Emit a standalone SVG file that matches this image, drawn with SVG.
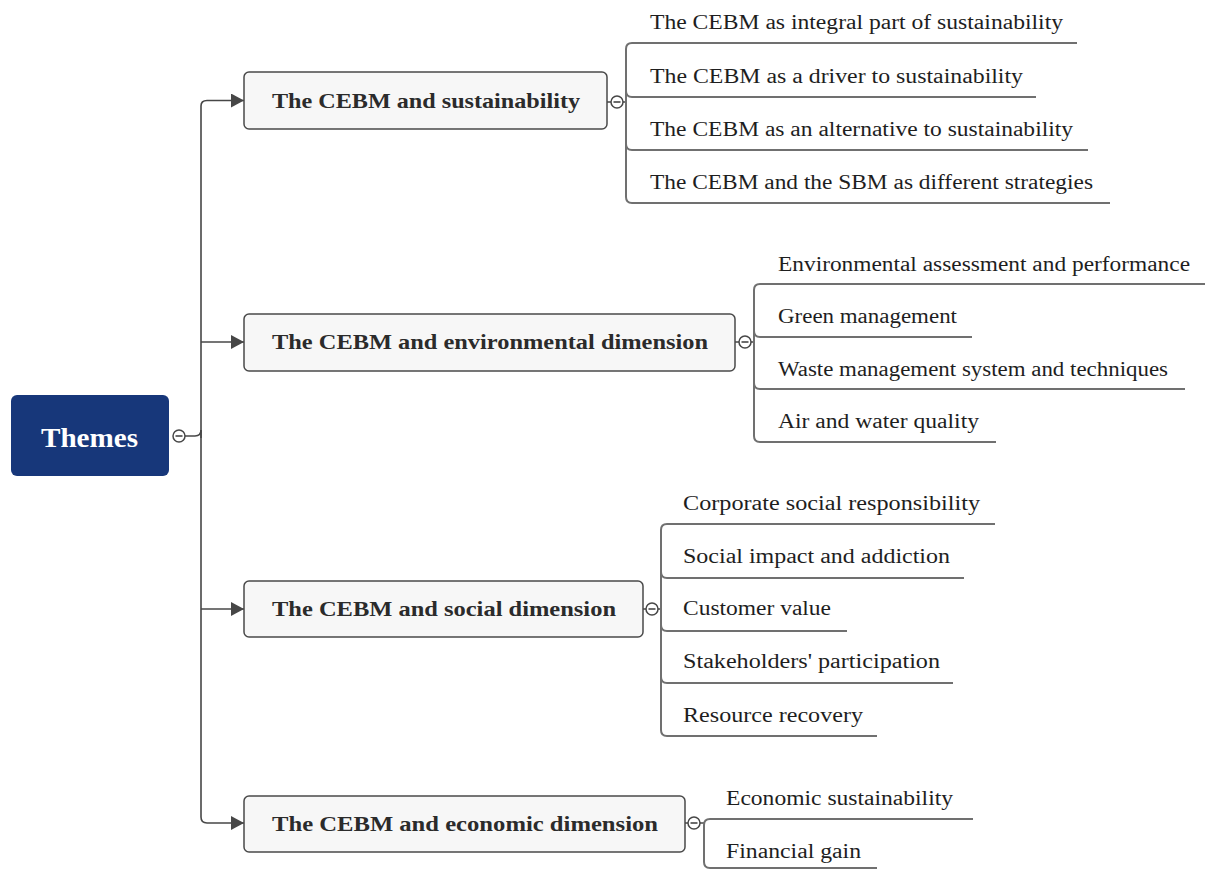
<svg xmlns="http://www.w3.org/2000/svg" width="1205" height="870" viewBox="0 0 1205 870">
<style>
.conn{fill:none;stroke:#474747;stroke-width:1.6}
.ul{fill:none;stroke:#707070;stroke-width:2}
.box{fill:#f7f7f7;stroke:#4a4a4a;stroke-width:1.5}
.bt{font-family:"Liberation Serif","Times New Roman",serif;font-weight:bold;font-size:22px;fill:#2b2b2b}
.lt{font-family:"Liberation Serif","Times New Roman",serif;font-size:20px;fill:#1e1e1e}
.col{fill:#fff;stroke:#474747;stroke-width:1.5}
.root{font-family:"Liberation Serif","Times New Roman",serif;font-weight:bold;font-size:27px;fill:#fff}
</style>
<defs>
<marker id="arr" markerWidth="13" markerHeight="14" refX="13" refY="7" orient="auto" markerUnits="userSpaceOnUse">
<path d="M0,0 L13,7 L0,14 Z" fill="#474747"/>
</marker>
</defs>
<rect width="1205" height="870" fill="#fff"/>

<g id="connectors">
<path class="conn" d="M185,436 L195,436 Q201,436 201,430"/>
<path class="conn" d="M201,438 L201,430"/>
<path class="conn" marker-end="url(#arr)" d="M201,436 L201,106 Q201,100.5 207,100.5 L244,100.5"/>
<path class="conn" marker-end="url(#arr)" d="M201,436 L201,817 Q201,823 207,823 L244,823"/>
<path class="conn" marker-end="url(#arr)" d="M201,342 L244,342"/>
<path class="conn" marker-end="url(#arr)" d="M201,609 L244,609"/>
<!-- b1 -->
<path class="conn" d="M607,102 L611,102 M623,102 L626,102"/>
<path class="ul" d="M1077,43 L632,43 Q626,43 626,49 L626,197 Q626,203 632,203 L1110,203"/>
<path class="ul" d="M626,91 Q626,97 632,97 L1036,97 M626,144 Q626,150 632,150 L1088,150"/>
<!-- b2 -->
<path class="conn" d="M735,342 L739,342 M751,342 L754,342"/>
<path class="ul" d="M1205,284 L760,284 Q754,284 754,290 L754,436 Q754,442 760,442 L996,442"/>
<path class="ul" d="M754,331 Q754,337 760,337 L972,337 M754,383 Q754,389 760,389 L1185,389"/>
<!-- b3 -->
<path class="conn" d="M643,609 L646,609 M658,609 L661,609"/>
<path class="ul" d="M995,524 L667,524 Q661,524 661,530 L661,730 Q661,736 667,736 L877,736"/>
<path class="ul" d="M661,572 Q661,578 667,578 L964,578 M661,625 Q661,631 667,631 L847,631 M661,677 Q661,683 667,683 L953,683"/>
<!-- b4 -->
<path class="conn" d="M685,823 L688,823 M700,823 L704,823"/>
<path class="ul" d="M973,819 L710,819 Q704,819 704,825 L704,862 Q704,868 710,868 L877,868"/>
</g>

<g id="root">
<rect x="11" y="395" width="158" height="81" rx="6" fill="#17377a"/>
<text class="root" x="41" y="447" textLength="97" lengthAdjust="spacingAndGlyphs">Themes</text>
<circle class="col" cx="179" cy="436" r="6"/>
<path d="M175.5,436 L182.5,436" stroke="#474747" stroke-width="1.6"/>
</g>

<g id="b1">
<rect class="box" x="244" y="72" width="363" height="57" rx="5"/>
<text class="bt" x="272" y="108" textLength="308" lengthAdjust="spacingAndGlyphs">The CEBM and sustainability</text>
<circle class="col" cx="617" cy="102" r="6"/>
<path d="M613.5,102 L620.5,102" stroke="#474747" stroke-width="1.6"/>
</g>
<g id="b1-leaves">
<text class="lt" x="650" y="29" textLength="413" lengthAdjust="spacingAndGlyphs">The CEBM as integral part of sustainability</text>
<text class="lt" x="650" y="83" textLength="373" lengthAdjust="spacingAndGlyphs">The CEBM as a driver to sustainability</text>
<text class="lt" x="650" y="136" textLength="423" lengthAdjust="spacingAndGlyphs">The CEBM as an alternative to sustainability</text>
<text class="lt" x="650" y="189" textLength="443" lengthAdjust="spacingAndGlyphs">The CEBM and the SBM as different strategies</text>
</g>

<g id="b2">
<rect class="box" x="244" y="314" width="491" height="57" rx="5"/>
<text class="bt" x="272" y="349" textLength="436" lengthAdjust="spacingAndGlyphs">The CEBM and environmental dimension</text>
<circle class="col" cx="745" cy="342" r="6"/>
<path d="M741.5,342 L748.5,342" stroke="#474747" stroke-width="1.6"/>
</g>
<g id="b2-leaves">
<text class="lt" x="778" y="271" textLength="412" lengthAdjust="spacingAndGlyphs">Environmental assessment and performance</text>
<text class="lt" x="778" y="323" textLength="179" lengthAdjust="spacingAndGlyphs">Green management</text>
<text class="lt" x="778" y="376" textLength="390" lengthAdjust="spacingAndGlyphs">Waste management system and techniques</text>
<text class="lt" x="778" y="428" textLength="201" lengthAdjust="spacingAndGlyphs">Air and water quality</text>
</g>

<g id="b3">
<rect class="box" x="244" y="581" width="399" height="56" rx="5"/>
<text class="bt" x="272" y="616" textLength="344" lengthAdjust="spacingAndGlyphs">The CEBM and social dimension</text>
<circle class="col" cx="652" cy="609" r="6"/>
<path d="M648.5,609 L655.5,609" stroke="#474747" stroke-width="1.6"/>
</g>
<g id="b3-leaves">
<text class="lt" x="683" y="510" textLength="297" lengthAdjust="spacingAndGlyphs">Corporate social responsibility</text>
<text class="lt" x="683" y="563" textLength="267" lengthAdjust="spacingAndGlyphs">Social impact and addiction</text>
<text class="lt" x="683" y="615" textLength="148" lengthAdjust="spacingAndGlyphs">Customer value</text>
<text class="lt" x="683" y="668" textLength="257" lengthAdjust="spacingAndGlyphs">Stakeholders' participation</text>
<text class="lt" x="683" y="722" textLength="180" lengthAdjust="spacingAndGlyphs">Resource recovery</text>
</g>

<g id="b4">
<rect class="box" x="244" y="796" width="441" height="56" rx="5"/>
<text class="bt" x="272" y="831" textLength="386" lengthAdjust="spacingAndGlyphs">The CEBM and economic dimension</text>
<circle class="col" cx="694" cy="823" r="6"/>
<path d="M690.5,823 L697.5,823" stroke="#474747" stroke-width="1.6"/>
</g>
<g id="b4-leaves">
<text class="lt" x="726" y="805" textLength="227" lengthAdjust="spacingAndGlyphs">Economic sustainability</text>
<text class="lt" x="726" y="858" textLength="135" lengthAdjust="spacingAndGlyphs">Financial gain</text>
</g>
</svg>
